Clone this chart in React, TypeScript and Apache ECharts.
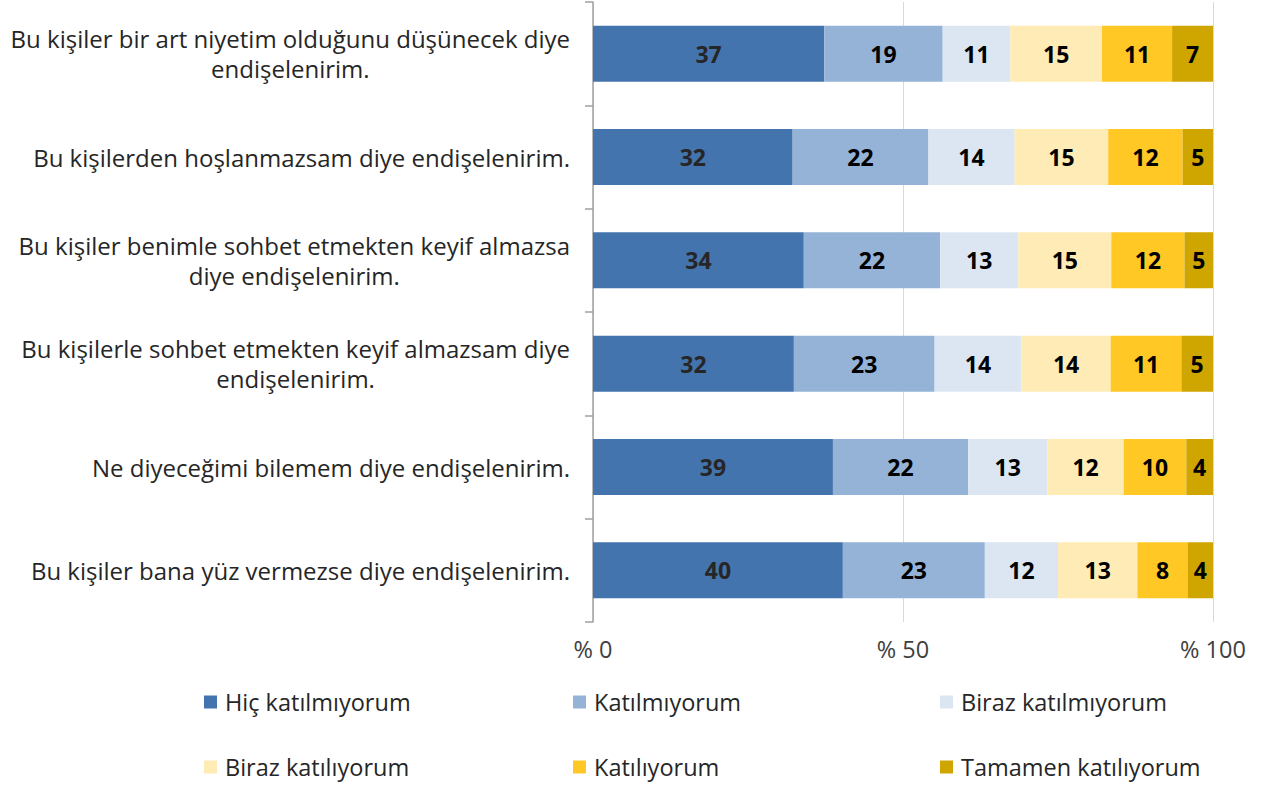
import React, { useEffect, useRef } from "react";
import * as echarts from "echarts";

const categories = [
  "Bu kişiler bir art niyetim olduğunu düşünecek diye\nendişelenirim.",
  "Bu kişilerden hoşlanmazsam diye endişelenirim.",
  "Bu kişiler benimle sohbet etmekten keyif almazsa\ndiye endişelenirim.",
  "Bu kişilerle sohbet etmekten keyif almazsam diye\nendişelenirim.",
  "Ne diyeceğimi bilemem diye endişelenirim.",
  "Bu kişiler bana yüz vermezse diye endişelenirim.",
];

const seriesNames = [
  "Hiç katılmıyorum",
  "Katılmıyorum",
  "Biraz katılmıyorum",
  "Biraz katılıyorum",
  "Katılıyorum",
  "Tamamen katılıyorum",
];

const hicKatilmiyorum = [37.3, 32.2, 34.0, 32.4, 38.7, 40.3];
const katilmiyorum = [19.1, 21.9, 22.0, 22.7, 21.8, 22.9];
const birazKatilmiyorum = [10.9, 13.9, 12.6, 14.0, 12.8, 11.8];
const birazKatiliyorum = [14.8, 15.1, 15.0, 14.4, 12.3, 12.8];
const katiliyorum = [11.3, 12.0, 11.8, 11.4, 10.1, 8.1];
const tamamenKatiliyorum = [6.6, 4.9, 4.6, 5.1, 4.3, 4.1];

const xTicks = [0, 50, 100];

const colors = ["#4474ae", "#95b3d7", "#dce6f2", "#ffebb5", "#ffc825", "#cfa600"];
const labelColors = ["#262626", "#000000", "#000000", "#000000", "#000000", "#000000"];

const allValues = [
  hicKatilmiyorum,
  katilmiyorum,
  birazKatilmiyorum,
  birazKatiliyorum,
  katiliyorum,
  tamamenKatiliyorum,
];

const FONT = "'Open Sans', 'Liberation Sans', sans-serif";

export default function App() {
  const ref = useRef<HTMLDivElement>(null);

  useEffect(() => {
    if (!ref.current) return;
    const chart = echarts.init(ref.current, null, { renderer: "svg" });

    const legendLefts = [204, 573, 940];
    const legendTops = [688, 753];

    const option: any = {
      animation: false,
      backgroundColor: "#ffffff",
      grid: { left: 593, right: 53, top: 2, bottom: 163, containLabel: false },
      xAxis: {
        type: "value",
        min: xTicks[0],
        max: xTicks[xTicks.length - 1],
        interval: 50,
        axisLine: { show: false },
        axisTick: { show: false },
        splitLine: { show: true, lineStyle: { color: "#d9d9d9", width: 1 } },
        axisLabel: {
          formatter: (v: number) => "% " + v,
          color: "#404040",
          fontSize: 23.5,
          fontFamily: FONT,
          margin: 15,
        },
      },
      yAxis: {
        type: "category",
        inverse: true,
        data: categories,
        axisLine: { show: true, lineStyle: { color: "#a0a0a0", width: 1.5 } },
        axisTick: { show: true, length: 8, lineStyle: { color: "#a0a0a0", width: 1.5 } },
        axisLabel: {
          margin: 23,
          formatter: (v: string) =>
            v
              .split("\n")
              .map((l) => "{c|" + l + "}")
              .join("\n"),
          rich: {
            c: {
              align: "center",
              fontSize: 24,
              lineHeight: 30,
              color: "#262626",
              fontFamily: FONT,
            },
          },
        },
      },
      legend: seriesNames.map((name, i) => ({
        data: [name],
        left: legendLefts[i % 3],
        top: legendTops[Math.floor(i / 3)],
        icon: "rect",
        itemWidth: 13,
        itemHeight: 13,
        padding: 0,
        selectedMode: false,
        textStyle: {
          fontSize: 23.5,
          lineHeight: 28,
          color: "#262626",
          fontFamily: FONT,
          padding: [0, 0, 0, 3],
        },
      })),
      series: seriesNames.map((name, i) => ({
        name,
        type: "bar",
        stack: "total",
        barWidth: 56,
        data: allValues[i],
        itemStyle: { color: colors[i] },
        label: {
          show: true,
          position: "inside",
          formatter: (p: any) => String(Math.round(p.value)),
          color: labelColors[i],
          fontSize: 23,
          fontWeight: "bold",
          fontFamily: FONT,
        },
      })),
    };

    chart.setOption(option);
    return () => chart.dispose();
  }, []);

  return (
    <div
      ref={ref}
      style={{ position: "absolute", left: 0, top: 0, width: 1266, height: 785 }}
    />
  );
}
